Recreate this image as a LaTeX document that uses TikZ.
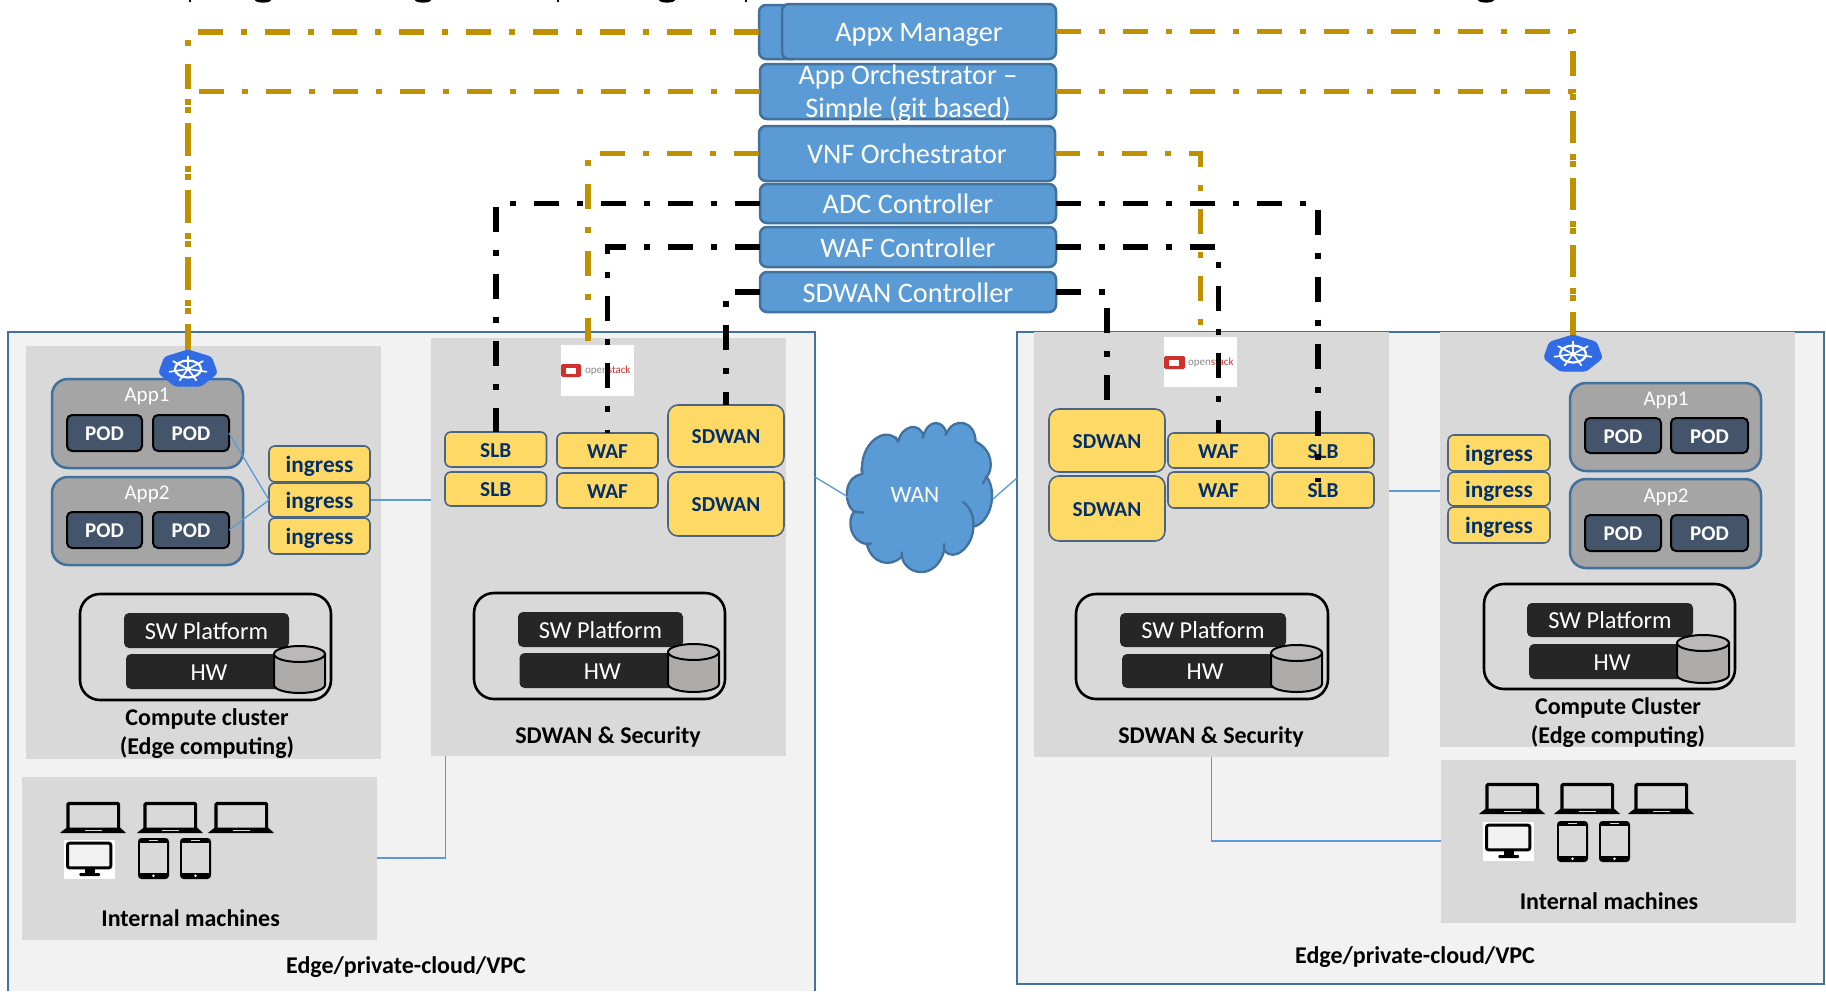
\documentclass[tikz,border=0pt]{standalone}
\usepackage{fontspec}
\setmainfont{Carlito}
\definecolor{bluefill}{HTML}{5B9BD5}
\definecolor{bluedge}{HTML}{41719C}
\definecolor{panelgray}{HTML}{D9D9D9}
\definecolor{outerfill}{HTML}{F2F2F2}
\definecolor{goldline}{HTML}{BF9000}
\definecolor{yellowfill}{HTML}{FFD966}
\definecolor{yellowedge}{HTML}{4A6484}
\definecolor{navytext}{HTML}{002F6C}
\definecolor{appgray}{HTML}{A5A5A5}
\definecolor{podfill}{HTML}{44546A}
\definecolor{hwfill}{HTML}{262626}
\definecolor{cylfill}{HTML}{AEABAB}
\definecolor{kubeblue}{HTML}{326CE5}
\definecolor{osred}{HTML}{D0312D}
\definecolor{osgray}{HTML}{8A8A8A}
\tikzset{
  every node/.style={inner sep=0pt,outer sep=0pt},
  ctrlbox/.style={draw=bluedge,line width=2.5pt,fill=bluefill,rounded corners=7pt,text=white,align=center,font=\fontsize{28.3}{33}\selectfont},
  ctrlline/.style={ctrlbox,text height=20.5pt,text depth=0pt},
  ctrltext/.style={text=white,align=center,font=\fontsize{28.3}{33}\selectfont},
  panel/.style={fill=panelgray},
  yellowbox/.style={draw=yellowedge,line width=1.6pt,fill=yellowfill,rounded corners=6pt,text=navytext,font=\bfseries\fontsize{21.3}{25}\selectfont,text height=15.5pt,text depth=0pt},
  ingressbox/.style={yellowbox,font=\bfseries\fontsize{23.3}{27}\selectfont,text height=16.5pt},
  bigyellow/.style={yellowbox,rounded corners=10pt},
  appbox/.style={draw=bluedge,line width=2.5pt,fill=appgray,rounded corners=16pt},
  applabel/.style={text=white,font=\fontsize{21}{25}\selectfont,text height=15pt,text depth=0pt},
  podbox/.style={draw=black,line width=2pt,fill=podfill,rounded corners=5pt,text=white,font=\bfseries\fontsize{21}{25}\selectfont,text height=15pt,text depth=0pt},
  swframe/.style={draw=black,line width=2.6pt,rounded corners=20pt},
  darkbox/.style={fill=hwfill,rounded corners=5pt,text=white,font=\fontsize{24.4}{28}\selectfont,text height=17.5pt,text depth=0pt},
  boldlabel/.style={text=black,align=center,font=\bfseries\fontsize{24}{29}\selectfont},
  goldpath/.style={draw=goldline,line width=5.8pt,dash pattern=on 25pt off 18pt on 6pt off 18pt},
  blackpath/.style={draw=black,line width=5.8pt,dash pattern=on 25pt off 18pt on 6pt off 18pt},
  thinlink/.style={draw=bluefill,line width=1.3pt},
  osbox/.style={fill=white},
  ostext/.style={font=\fontsize{11}{12}\selectfont},
}
\newcommand{\pxbox}[7]{%
  \pgfmathsetmacro\pxcx{(#3+#5)/2}\pgfmathsetmacro\pxcy{(#4+#6)/2}%
  \pgfmathsetmacro\pxw{#5-#3}\pgfmathsetmacro\pxh{#6-#4}%
  \node[#1,minimum width=\pxw pt,minimum height=\pxh pt] (#2) at (\pxcx,\pxcy) {#7};}
\newcommand{\drawcyl}[4]{% x1,y1,x2,y2
  \pgfmathsetmacro\cymid{(#1+#3)/2}\pgfmathsetmacro\cyrx{(#3-#1)/2}%
  \pgfmathsetmacro\cyt{#2+8}\pgfmathsetmacro\cyb{#4-8}%
  \draw[black,line width=2pt,fill=cylfill] (#1,\cyt) -- (#1,\cyb) arc[start angle=180,end angle=360,x radius=\cyrx,y radius=-8] -- (#3,\cyt) -- cycle;
  \draw[black,line width=2pt,fill=cylfill!85!white] (\cymid,\cyt) ellipse[x radius=\cyrx,y radius=8];}
\newcommand{\drawlaptop}[2]{\begin{scope}[shift={(#1,#2)}]
  \draw[black,line width=3.2pt,rounded corners=1pt] (8,26) -- (8,1.5) -- (58.6,1.5) -- (58.6,26);
  \fill[black] (0,31) -- (1,30) -- (7,25.5) -- (60,25.5) -- (65,30) -- (66,31) -- cycle;
  \fill[panelgray] (25,28) rectangle (42,29.3);
\end{scope}}
\newcommand{\drawmonitor}[2]{\begin{scope}[shift={(#1,#2)}]
  \fill[white] (0,0) rectangle (51,39);
  \draw[black,line width=3pt,fill=outerfill,rounded corners=2pt] (3.5,3.2) rectangle (46.8,27.8);
  \fill[black] (21,29) rectangle (31,33.5);
  \fill[black,rounded corners=1pt] (15.3,33) rectangle (36,36);
\end{scope}}
\newcommand{\drawphone}[2]{\begin{scope}[shift={(#1,#2)}]
  \fill[black,rounded corners=3.5pt] (0,0) rectangle (31,41);
  \fill[panelgray] (2.2,4.8) rectangle (28.8,34.5);
  \draw[panelgray,line width=.8pt] (11,2.5) -- (20,2.5);
  \fill[white] (15.5,37.7) circle (1.4);
\end{scope}}
\newcommand{\drawkube}[2]{%
  \begin{scope}[shift={(#1,#2-1)}]
    \fill[kubeblue,draw=kubeblue,line width=1pt,line join=round,rounded corners=3pt]
      (0,-19) \foreach \a in {1,...,6} {-- ({30*cos(90+\a*360/7)},{-19*sin(90+\a*360/7)})} -- cycle;
    \draw[white,line width=2.2pt] (0,0) ellipse[x radius=13,y radius=8.5];
    \foreach \a in {0,...,6}
      \draw[white,line width=1.7pt,line cap=round] ({4*cos(90+\a*360/7)},{-2.6*sin(90+\a*360/7)}) -- ({19*cos(90+\a*360/7)},{-12.5*sin(90+\a*360/7)});
    \fill[white] (0,0) ellipse[x radius=3.5,y radius=2.4];
  \end{scope}}
\begin{document}
\begin{tikzpicture}[x=1pt,y=-1pt]
\useasboundingbox (0,0) rectangle (1826,991);
\fill[white] (0,0) rectangle (1826,991);
% clipped descenders of the cut-off line above the picture
\fill[black] (188.8,0) rectangle (191.2,2);
\fill[black] (557,0) rectangle (559.4,2);
\fill[black] (744.5,0) rectangle (747,2);
\foreach \gx in {263,423,667,1486} \fill[black] (\gx-8,0) arc[start angle=180,end angle=360,x radius=8,y radius=-2.6] -- cycle;
% outer zones
\fill[outerfill] (8,332) rectangle (815,991);
\draw[bluedge,line width=2.5pt] (8,991) -- (8,332) -- (815,332) -- (815,991);
\pxbox{draw=bluedge,line width=2.5pt,fill=outerfill}{outerR}{1017}{332}{1824}{984}{}
\coordinate (outerLE) at (815,477);
\coordinate (outerRW) at (1017,478);
% panels
\pxbox{panel}{compL}{26}{346}{381}{759}{}
\pxbox{panel}{secL}{431}{338}{786}{756}{}
\pxbox{panel}{intL}{22}{777}{377}{940}{}
\pxbox{panel}{secR}{1034}{332}{1389}{757}{}
\pxbox{panel}{compR}{1440}{332}{1795}{747}{}
\pxbox{panel}{intR}{1441}{760}{1796}{923}{}
% thin links
\draw[thinlink] (intL.east |- 0,858) -| (445.5,756);
\draw[thinlink] (intR.west |- 0,841) -| (secR.south);
\draw[thinlink] (370,500) -- (secL.west |- 0,500);
\draw[thinlink] (secR.east |- 0,491) -- (compR.west |- 0,491);
% left compute
\pxbox{appbox}{appaL}{52}{379}{243}{468}{}
\pxbox{appbox}{appbL}{52}{477}{243}{565}{}
\node[applabel] (appaLt) at (147,394) {App1};
\node[applabel] (appbLt) at (147,491.5) {App2};
\pxbox{podbox}{podaL}{67}{415}{142}{451}{POD}
\pxbox{podbox}{podbL}{153}{415}{229}{451}{POD}
\pxbox{podbox}{podcL}{67}{512}{142}{548}{POD}
\pxbox{podbox}{poddL}{153}{512}{229}{548}{POD}
\pxbox{ingressbox}{ingaL}{269}{446}{370}{482}{ingress}
\pxbox{ingressbox}{ingbL}{269}{483}{370}{517}{ingress}
\pxbox{ingressbox}{ingcL}{269}{518}{370}{554}{ingress}
\draw[thinlink] (podbL.east) -- (ingbL.west);
\draw[thinlink] (poddL.east) -- (ingbL.west);
\pxbox{swframe}{swfL}{80}{594}{331}{700}{}
\pxbox{darkbox}{swL}{124}{613}{289}{648}{SW Platform}
\pxbox{darkbox}{hwL}{126}{654}{292}{689}{HW}
\drawcyl{274}{646}{325}{693}
\node[boldlabel] (compLt) at (207,733.5) {Compute cluster\\(Edge computing)};
% left security
\pxbox{yellowbox}{slbaL}{445}{432}{546.5}{467}{SLB}
\pxbox{yellowbox}{slbbL}{445}{472}{546.5}{506}{SLB}
\pxbox{yellowbox}{wafaL}{557}{433}{658}{468}{WAF}
\pxbox{yellowbox}{wafbL}{557}{473}{658}{508}{WAF}
\pxbox{bigyellow}{sdaL}{668}{405}{784}{467}{SDWAN}
\pxbox{bigyellow}{sdbL}{668}{472}{784}{536}{SDWAN}
\pxbox{swframe}{swfM}{474}{593}{725}{699}{}
\pxbox{darkbox}{swM}{518}{612}{683}{647}{SW Platform}
\pxbox{darkbox}{hwM}{519.5}{653}{685}{688}{HW}
\drawcyl{668}{644}{719}{692}
\node[boldlabel] (secLt) at (608,737) {SDWAN \& Security};
% internal machines left
\drawlaptop{60}{802}\drawlaptop{137}{802}\drawlaptop{208}{802}
\drawmonitor{64}{840}\drawphone{138}{838}\drawphone{180}{838}
\node[boldlabel] (intLt) at (190.6,918.5) {Internal machines};
\node[boldlabel] (edgeL) at (406,967.5) {Edge/private-cloud/VPC};
% right security
\pxbox{bigyellow}{sdaR}{1049}{409}{1165}{472}{SDWAN}
\pxbox{bigyellow}{sdbR}{1049}{476}{1165}{541}{SDWAN}
\pxbox{yellowbox}{wafaR}{1168}{433}{1269}{468}{WAF}
\pxbox{yellowbox}{wafbR}{1168}{472}{1269}{508}{WAF}
\pxbox{yellowbox}{slbaR}{1272}{433}{1374}{468}{SLB}
\pxbox{yellowbox}{slbbR}{1272}{472}{1374}{508}{SLB}
\pxbox{swframe}{swfR}{1076}{594}{1328}{699}{}
\pxbox{darkbox}{swR}{1120}{613}{1286}{647}{SW Platform}
\pxbox{darkbox}{hwR}{1122}{654}{1288}{688}{HW}
\drawcyl{1271}{645}{1322}{692}
\node[boldlabel] (secRt) at (1211,737) {SDWAN \& Security};
% right compute
\pxbox{appbox}{appaR}{1570}{383}{1761}{471}{}
\pxbox{appbox}{appbR}{1570}{479}{1761}{568}{}
\node[applabel] (appaRt) at (1666,397.5) {App1};
\node[applabel] (appbRt) at (1666,495) {App2};
\pxbox{podbox}{podaR}{1585}{418}{1661}{453}{POD}
\pxbox{podbox}{podbR}{1671}{418}{1748}{453}{POD}
\pxbox{podbox}{podcR}{1585}{515}{1661}{551}{POD}
\pxbox{podbox}{poddR}{1671}{515}{1748}{551}{POD}
\pxbox{ingressbox}{ingaR}{1448}{435}{1550}{471}{ingress}
\pxbox{ingressbox}{ingbR}{1448}{472}{1550}{506}{ingress}
\pxbox{ingressbox}{ingcR}{1448}{507}{1550}{543}{ingress}
\pxbox{swframe}{swfS}{1484}{584}{1735}{689}{}
\pxbox{darkbox}{swS}{1527}{603}{1693}{637}{SW Platform}
\pxbox{darkbox}{hwS}{1529}{644}{1695}{679}{HW}
\drawcyl{1677}{635}{1729}{683}
\node[boldlabel] (compRt) at (1618,723) {Compute Cluster\\(Edge computing)};
% internal machines right
\drawlaptop{1479}{783}\drawlaptop{1554}{783}\drawlaptop{1628}{783}
\drawmonitor{1483}{822}\drawphone{1557}{821}\drawphone{1599}{821}
\node[boldlabel] (intRt) at (1609,901.5) {Internal machines};
\node[boldlabel] (edgeR) at (1415,957) {Edge/private-cloud/VPC};
% openstack badges
\pxbox{osbox}{osL}{561}{345}{634}{396}{}
\fill[osred,rounded corners=1.5pt] (561,364) rectangle (581,377);
\fill[white] (566,367.5) rectangle (576,374);
\node[ostext,anchor=west] (osLt) at (585,371) {\textcolor{osgray}{open}\textcolor{osred}{stack}};
\pxbox{osbox}{osR}{1164}{337}{1237}{387}{}
\fill[osred,rounded corners=1.5pt] (1164,356) rectangle (1185,369);
\fill[white] (1169,359.5) rectangle (1179,366);
\node[ostext,anchor=west] (osRt) at (1188,363) {\textcolor{osgray}{open}\textcolor{osred}{stack}};
% WAN cloud
\begin{scope}[shift={(830pt,-400pt)},x=0.33333pt,y=-0.33333pt]
  \path[draw=bluedge,line width=2.3pt,fill=bluefill,line join=round]
   (97,222) .. controls (85,130) and (170,70) .. (205,125)
   .. controls (215,75) and (270,65) .. (280,108)
   .. controls (295,55) and (340,60) .. (350,100)
   .. controls (370,50) and (435,60) .. (437,125)
   .. controls (490,150) and (490,210) .. (470,230)
   .. controls (505,280) and (480,370) .. (430,380)
   .. controls (430,440) and (370,490) .. (343,450)
   .. controls (320,540) and (230,530) .. (215,470)
   .. controls (180,505) and (125,490) .. (110,432)
   .. controls (60,425) and (50,360) .. (72,335)
   .. controls (40,310) and (40,230) .. (97,222) -- cycle;
  \draw[bluedge,line width=2.3pt]
   (470,228) -- (458,252)
   (398,305) .. controls (425,325) and (432,355) .. (430,380)
   (343,430) -- (343,452)
   (215,455) -- (216,472)
   (110,432) -- (125,430)
   (72,335) -- (102,338)
   (97,222) -- (94,205)
   (205,125) -- (195,110)
   (280,108) -- (277,115)
   (350,100) -- (345,106);
\end{scope}
\node[text=white,font=\fontsize{23.5}{28}\selectfont,text height=17pt,text depth=0pt] (wan) at (915,494) {WAN};
\coordinate (wanW) at (848,497);
\coordinate (wanE) at (993,499);
\draw[thinlink] (outerLE) -- (wanW);
\draw[thinlink] (outerRW) -- (wanE);
% control-plane boxes
\pxbox{ctrlbox}{appxback}{759}{5}{800}{59}{}
\pxbox{ctrlline}{appx}{782}{4}{1056}{59}{Appx Manager}
\pxbox{ctrlbox}{apporch}{760}{64}{1056}{119}{}
\node[ctrltext] (apporcht) at (908,94) {App Orchestrator –\\Simple (git based)};
\pxbox{ctrlline}{vnf}{759}{126}{1055}{181}{VNF Orchestrator}
\pxbox{ctrlline}{adc}{760}{184}{1056}{223}{ADC Controller}
\pxbox{ctrlline}{waf}{760}{227}{1056}{267}{WAF Controller}
\pxbox{ctrlline}{sdw}{760}{272}{1056}{312}{SDWAN Controller}
% kubernetes marks (nodes first, lines end on them)
\node[minimum width=58pt,minimum height=36pt] (kubeL) at (188,370) {};
\node[minimum width=58pt,minimum height=36pt] (kubeR) at (1573,355) {};
\coordinate (vnfLend) at (588,341);
\coordinate (adcRend) at (1318,482);
% dash-dot links
\draw[goldpath] (vnf.west) -| (vnfLend);
\draw[goldpath] (vnf.east) -| (osR.north);
\draw[goldpath] (appxback.west) -| (kubeL.north);
\draw[goldpath] (apporch.west) -| (kubeL.north);
\draw[goldpath] (appx.east) -| (kubeR.north);
\draw[goldpath] (apporch.east) -| (kubeR.north);
\draw[blackpath] (adc.west) -| (slbaL.north);
\draw[blackpath] (waf.west) -| (wafaL.north);
\draw[blackpath] (sdw.west) -| (sdaL.north);
\draw[blackpath] (adc.east) -| (adcRend);
\draw[blackpath] (waf.east) -| (wafaR.north);
\draw[blackpath] (sdw.east) -| (sdaR.north);
\drawkube{188}{370}
\drawkube{1573}{355}
\end{tikzpicture}
\end{document}
